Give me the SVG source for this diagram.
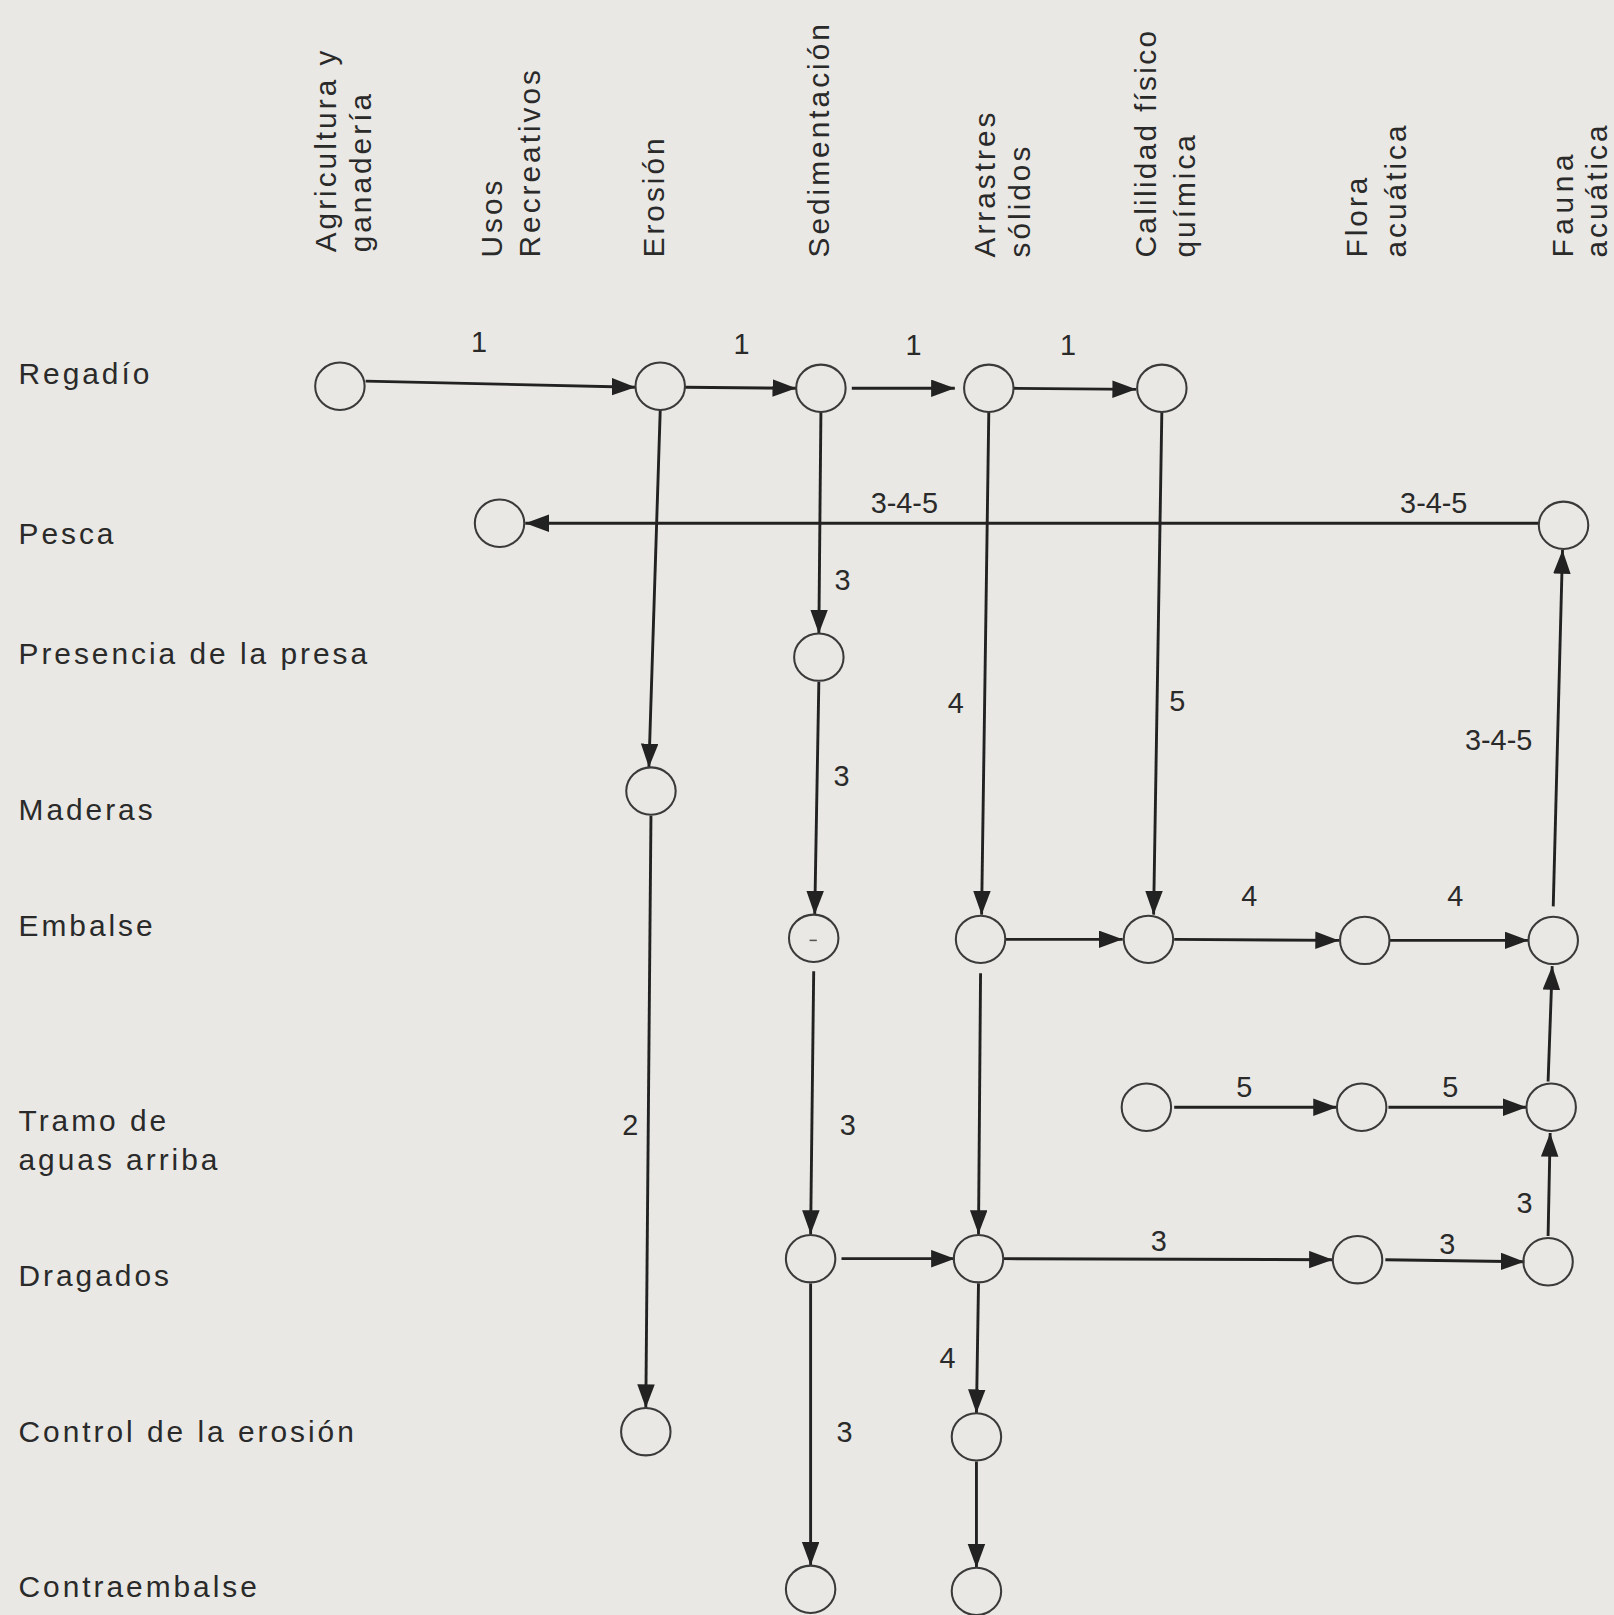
<svg xmlns="http://www.w3.org/2000/svg" width="1614" height="1615" viewBox="0 0 1614 1615">
<style>
.t{font-family:"Liberation Sans",Arial,sans-serif;font-size:29px;letter-spacing:2.9px;fill:#2a2a2a}
.h{font-family:"Liberation Sans",Arial,sans-serif;font-size:29px;letter-spacing:2.9px;fill:#2a2a2a}
.n{font-family:"Liberation Sans",Arial,sans-serif;font-size:28px;fill:#2a2a2a;text-anchor:middle}
.node{fill:none;stroke:#3a3a3a;stroke-width:2}
.e{fill:none;stroke:#222;stroke-width:2.8;marker-end:url(#ah)}
</style>
<defs>
<marker id="ah" markerUnits="userSpaceOnUse" markerWidth="24" markerHeight="18" refX="23" refY="8.5" orient="auto" viewBox="0 0 24 18">
<path d="M0,0 L23,8.5 L0,17 z" fill="#222"/>
</marker>
</defs>
<rect width="1614" height="1615" fill="#e9e8e4"/>
<g transform="scale(1.03)">
<g id="headers">
<text class="h" transform="translate(326,245) rotate(-90)">Agricultura y</text>
<text class="h" transform="translate(360,245) rotate(-90)">ganadería</text>
<text class="h" transform="translate(487,250) rotate(-90)">Usos</text>
<text class="h" transform="translate(524,250) rotate(-90)">Recreativos</text>
<text class="h" transform="translate(645,250) rotate(-90)">Erosión</text>
<text class="h" transform="translate(805,250) rotate(-90)">Sedimentación</text>
<text class="h" transform="translate(966,250) rotate(-90)">Arrastres</text>
<text class="h" transform="translate(1000,250) rotate(-90)">sólidos</text>
<text class="h" transform="translate(1122,250) rotate(-90)" style="letter-spacing:2.2px">Calilidad físico</text>
<text class="h" transform="translate(1160,250) rotate(-90)">química</text>
<text class="h" transform="translate(1327,250) rotate(-90)">Flora</text>
<text class="h" transform="translate(1365,250) rotate(-90)">acuática</text>
<text class="h" transform="translate(1527,250) rotate(-90)" style="letter-spacing:4.5px">Fauna</text>
<text class="h" transform="translate(1560,250) rotate(-90)">acuática</text>
</g>
<g id="rows">
<text class="t" x="18" y="373">Regadío</text>
<text class="t" x="18" y="528">Pesca</text>
<text class="t" x="18" y="645">Presencia de la presa</text>
<text class="t" x="18" y="796">Maderas</text>
<text class="t" x="18" y="909">Embalse</text>
<text class="t" x="18" y="1098">Tramo de</text>
<text class="t" x="18" y="1136">aguas arriba</text>
<text class="t" x="18" y="1249">Dragados</text>
<text class="t" x="18" y="1400">Control de la erosión</text>
<text class="t" x="18" y="1550">Contraembalse</text>
</g>
<g id="connectors">
<path class="e" d="M355,370 L617,376"/>
<path class="e" d="M665,376 L773,377"/>
<path class="e" d="M827,377 L927,377"/>
<path class="e" d="M984,377 L1103,378"/>
<path class="e" d="M641,398 L630,745"/>
<path class="e" d="M632,792 L627,1367"/>
<path class="e" d="M797,400 L795,615"/>
<path class="e" d="M795,662 L791,888"/>
<path class="e" d="M790,943 L787,1198"/>
<path class="e" d="M787,1246 L787,1520"/>
<path class="e" d="M817,1222 L927,1222"/>
<path class="e" d="M960,400 L953,888"/>
<path class="e" d="M1128,400 L1120,888"/>
<path class="e" d="M1494,508 L510,508"/>
<path class="e" d="M976,912 L1090,912"/>
<path class="e" d="M1140,912 L1300,913"/>
<path class="e" d="M1349,913 L1484,913"/>
<path class="e" d="M1508,880 L1517,534"/>
<path class="e" d="M952,945 L950,1198"/>
<path class="e" d="M1140,1075 L1298,1075"/>
<path class="e" d="M1348,1075 L1482,1075"/>
<path class="e" d="M1503,1050 L1507,938"/>
<path class="e" d="M974,1222 L1294,1223"/>
<path class="e" d="M1345,1223 L1480,1225"/>
<path class="e" d="M1503,1200 L1505,1100"/>
<path class="e" d="M950,1246 L948,1372"/>
<path class="e" d="M948,1419 L948,1522"/>
</g>
<g id="edge-labels">
<text class="n" x="465" y="342">1</text>
<text class="n" x="720" y="344">1</text>
<text class="n" x="887" y="345">1</text>
<text class="n" x="1037" y="345">1</text>
<text class="n" x="878" y="498">3-4-5</text>
<text class="n" x="1392" y="498">3-4-5</text>
<text class="n" x="818" y="573">3</text>
<text class="n" x="817" y="763">3</text>
<text class="n" x="928" y="692">4</text>
<text class="n" x="1143" y="690">5</text>
<text class="n" x="1455" y="728">3-4-5</text>
<text class="n" x="1213" y="880">4</text>
<text class="n" x="1413" y="880">4</text>
<text class="n" x="612" y="1102">2</text>
<text class="n" x="823" y="1102">3</text>
<text class="n" x="1208" y="1065">5</text>
<text class="n" x="1408" y="1065">5</text>
<text class="n" x="1125" y="1215">3</text>
<text class="n" x="1405" y="1217">3</text>
<text class="n" x="1480" y="1178">3</text>
<text class="n" x="920" y="1328">4</text>
<text class="n" x="820" y="1400">3</text>
</g>
<g id="n-regadio-agri"><ellipse class="node" cx="330" cy="375" rx="24" ry="23"/></g>
<g id="n-regadio-erosion"><ellipse class="node" cx="641" cy="375" rx="24" ry="23"/></g>
<g id="n-regadio-sed"><ellipse class="node" cx="797" cy="377" rx="24" ry="23"/></g>
<g id="n-regadio-arr"><ellipse class="node" cx="960" cy="377" rx="24" ry="23"/></g>
<g id="n-regadio-cal"><ellipse class="node" cx="1128" cy="377" rx="24" ry="23"/></g>
<g id="n-pesca-usos"><ellipse class="node" cx="485" cy="508" rx="24" ry="23"/></g>
<g id="n-pesca-fauna"><ellipse class="node" cx="1518" cy="510" rx="24" ry="23"/></g>
<g id="n-presa-sed"><ellipse class="node" cx="795" cy="638" rx="24" ry="23"/></g>
<g id="n-maderas-erosion"><ellipse class="node" cx="632" cy="768" rx="24" ry="23"/></g>
<g id="n-embalse-sed"><ellipse class="node" cx="790" cy="911" rx="24" ry="23"/><line x1="786" y1="913" x2="793" y2="913" stroke="#555" stroke-width="1.5"/></g>
<g id="n-embalse-arr"><ellipse class="node" cx="952" cy="912" rx="24" ry="23"/></g>
<g id="n-embalse-cal"><ellipse class="node" cx="1115" cy="912" rx="24" ry="23"/></g>
<g id="n-embalse-flora"><ellipse class="node" cx="1325" cy="913" rx="24" ry="23"/></g>
<g id="n-embalse-fauna"><ellipse class="node" cx="1508" cy="913" rx="24" ry="23"/></g>
<g id="n-tramo-cal"><ellipse class="node" cx="1113" cy="1075" rx="24" ry="23"/></g>
<g id="n-tramo-flora"><ellipse class="node" cx="1322" cy="1075" rx="24" ry="23"/></g>
<g id="n-tramo-fauna"><ellipse class="node" cx="1506" cy="1075" rx="24" ry="23"/></g>
<g id="n-dragados-sed"><ellipse class="node" cx="787" cy="1222" rx="24" ry="23"/></g>
<g id="n-dragados-arr"><ellipse class="node" cx="950" cy="1222" rx="24" ry="23"/></g>
<g id="n-dragados-flora"><ellipse class="node" cx="1318" cy="1223" rx="24" ry="23"/></g>
<g id="n-dragados-fauna"><ellipse class="node" cx="1503" cy="1225" rx="24" ry="23"/></g>
<g id="n-control-erosion"><ellipse class="node" cx="627" cy="1390" rx="24" ry="23"/></g>
<g id="n-control-arr"><ellipse class="node" cx="948" cy="1395" rx="24" ry="23"/></g>
<g id="n-contra-sed"><ellipse class="node" cx="787" cy="1543" rx="24" ry="23"/></g>
<g id="n-contra-arr"><ellipse class="node" cx="948" cy="1545" rx="24" ry="23"/></g>
</g>
</svg>
